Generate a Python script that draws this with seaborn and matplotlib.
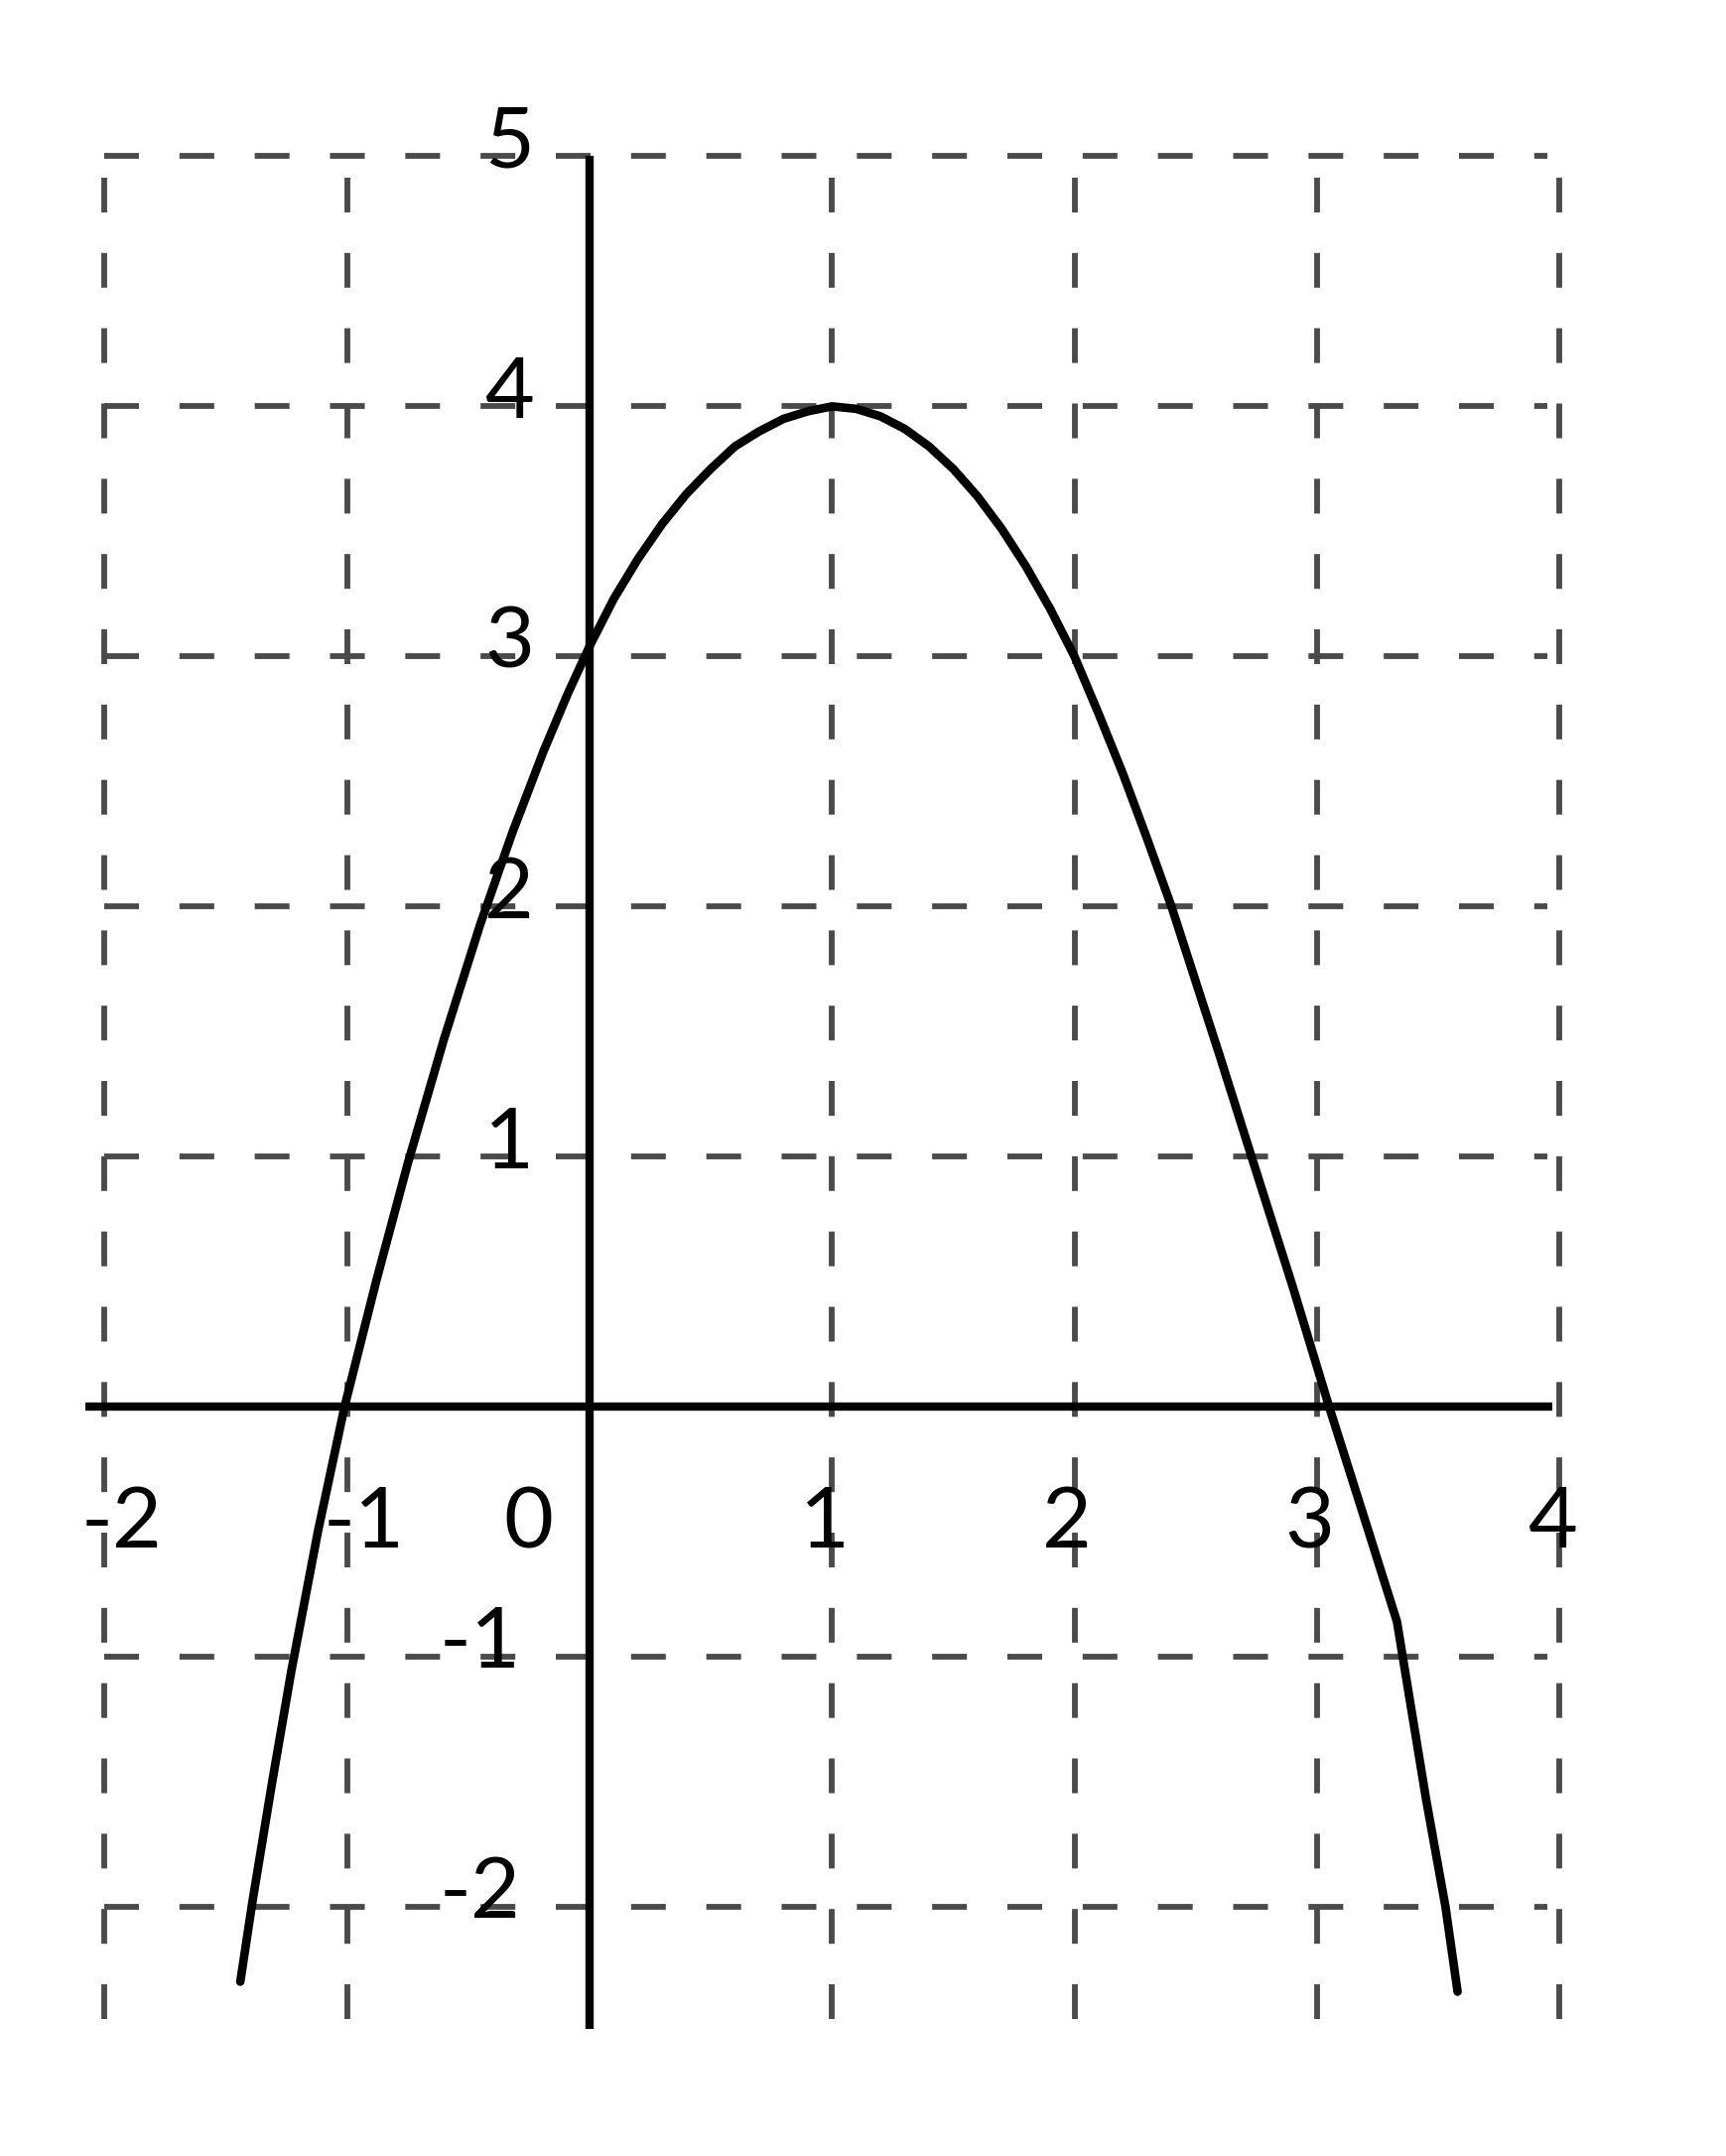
import matplotlib
matplotlib.use("Agg")
import matplotlib.pyplot as plt
import seaborn as sns

sns.set_theme(style="white")
plt.rcParams['font.family'] = ['Lato', 'DejaVu Sans']

# Hand-drawn parabola, points
curve_x = [-1.44, -1.39, -1.31, -1.23, -1.12, -1.01, -0.88, -0.75, -0.60, -0.45,
           -0.32, -0.19, -0.09, 0.00, 0.10, 0.20, 0.30, 0.40, 0.50, 0.60,
           0.70, 0.80, 0.90, 1.00, 1.10, 1.20, 1.30, 1.40, 1.50, 1.60,
           1.70, 1.80, 1.90, 2.00, 2.10, 2.20, 2.30, 2.40, 2.50, 2.60,
           2.73, 2.90, 3.05, 3.20, 3.33, 3.45, 3.53, 3.58]
curve_y = [-2.30, -1.98, -1.51, -1.06, -0.50, 0.00, 0.50, 0.97, 1.47, 1.93,
           2.29, 2.62, 2.85, 3.04, 3.23, 3.39, 3.53, 3.65, 3.75, 3.84,
           3.90, 3.95, 3.98, 4.00, 3.99, 3.96, 3.91, 3.84, 3.75, 3.64,
           3.51, 3.36, 3.19, 3.00, 2.77, 2.53, 2.27, 2.00, 1.70, 1.40,
           1.00, 0.48, 0.00, -0.46, -0.86, -1.57, -2.00, -2.34]

# Grid and labels
grid_x = [-2, -1, 1, 2, 3, 4]
grid_y = [-2, -1, 1, 2, 3, 4, 5]
x_ticks = [-2, -1, 0, 1, 2, 3, 4]
x_labels = ["-2", "-1", "0", "1", "2", "3", "4"]
y_ticks = [5, 4, 3, 2, 1, -1, -2]
y_labels = ["5", "4", "3", "2", "1", "-1", "-2"]

fig = plt.figure(figsize=(17.4, 21.72), dpi=100)
ax = fig.add_axes([0, 0, 1, 1])
ax.set_xlim(-2.431, 4.691)
ax.set_ylim(-2.997, 5.625)
ax.axis('off')

dash = (0, (6.0, 7.0))
ax.hlines(grid_y, -2.0, 3.95, colors='#4a4a4a', linewidth=4.2, linestyles=dash)
ax.vlines(grid_x, -2.45, 5.0, colors='#4a4a4a', linewidth=4.2, linestyles=dash)

# axes
ax.plot([-2.08, 3.97], [0, 0], color='black', linewidth=6, solid_capstyle='butt')
ax.plot([0, 0], [-2.49, 5.0], color='black', linewidth=6, solid_capstyle='butt')

sns.lineplot(x=curve_x, y=curve_y, sort=False, estimator=None,
             color='black', linewidth=6.2, ax=ax)
ax.lines[-1].set_solid_joinstyle('round')

for v, lab in zip(x_ticks, x_labels):
    if v == 0:
        xp = -0.25
    elif v < 0:
        xp = v + 0.07
    else:
        xp = v - 0.03
    ax.text(xp, -0.47, lab, ha='center', va='center', fontsize=62, color='black')

for v, lab in zip(y_ticks, y_labels):
    xp = -0.45 if v < 0 else -0.33
    ax.text(xp, v + 0.05, lab, ha='center', va='center', fontsize=62, color='black')

fig.savefig("out.png", dpi=100, facecolor='white')
